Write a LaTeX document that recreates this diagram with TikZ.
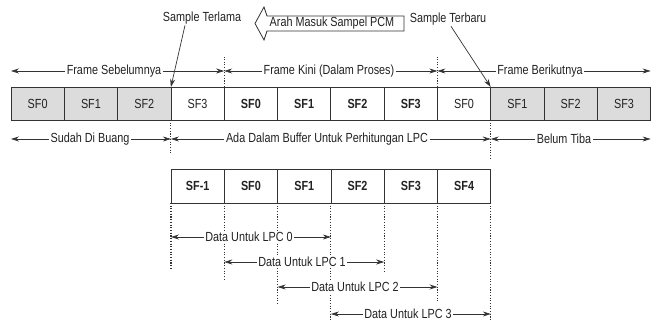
\documentclass[tikz,border=0pt]{standalone}
\usepackage{fontspec}
\setmainfont[FakeStretch=0.82]{Liberation Sans}
\usetikzlibrary{arrows.meta}
\definecolor{linec}{HTML}{333333}
\definecolor{txtc}{HTML}{222222}
\definecolor{grayfill}{HTML}{DCDCDC}
\newcommand{\lblfont}{\fontsize{13.2}{15}\selectfont}
\tikzset{
  sfbox/.style={draw=linec, line width=0.7pt, minimum width=53.3pt, minimum height=33pt, inner sep=0pt, outer sep=0pt, fill=white},
  g/.style={sfbox, fill=grayfill},
  w/.style={sfbox},
  b/.style={sfbox, font=\lblfont\bfseries},
  arr/.style={-{Stealth[length=8pt,width=5pt]}, draw=linec, line width=0.7pt},
  dotline/.style={draw=linec, line width=1.1pt, dash pattern=on 1.1pt off 1.6pt},
  lbl/.style={inner sep=1.5pt, fill=white},
}
\begin{document}
\begin{tikzpicture}[x=1pt,y=-1pt, font=\lblfont, text=txtc]
\useasboundingbox (0,0) rectangle (653,323);

% top row
\foreach \lab/\sty [count=\i from 0] in {SF0/g,SF1/g,SF2/g,SF3/w,SF0/b,SF1/b,SF2/b,SF3/b,SF0/w,SF1/g,SF2/g,SF3/g}{
  \node[\sty] (t\i) at ({11+53.3*(\i+0.5)},103.5) {\lab};
}
% second row
\foreach \lab [count=\j from 0] in {SF-1,SF0,SF1,SF2,SF3,SF4}{
  \node[b, minimum height=34pt] (b\j) at ({171+53.3*(\j+0.5)},186) {\lab};
}

% dotted separators top row
\draw[dotline] (t4.north west) -- ++(0,-30);
\draw[dotline] (t8.north west) -- ++(0,-30);
\draw[dotline] (t3.south west) -- ++(0,34);
\draw[dotline] (t9.south west) -- ++(0,38);

% dotted separators second row
\draw[dotline] (b0.south west) -- ++(0,65);
\draw[dotline] (b1.south west) -- ++(0,76);
\draw[dotline] (b2.south west) -- ++(0,100);
\draw[dotline] (b3.south west) -- ++(0,118);
\draw[dotline] (b4.south west) -- ++(0,70);
\draw[dotline] (b5.south west) -- ++(0,98);
\draw[dotline] (b5.south east) -- ++(0,118);

% frame labels
\node[lbl] (f1) at (114,71) {Frame Sebelumnya};
\node[lbl] (f2) at (329,71) {Frame Kini (Dalam Proses)};
\node[lbl] (f3) at (540,71) {Frame Berikutnya};
\coordinate (fL) at (t0.north west |- f1);
\coordinate (fA) at (t4.north west |- f1);
\coordinate (fB) at (t8.north west |- f1);
\coordinate (fR) at (t11.north east |- f1);
\draw[arr] (f1.west) -- (fL);
\draw[arr] (f1.east) -- (fA);
\draw[arr] (f2.west) -- (fA);
\draw[arr] (f2.east) -- (fB);
\draw[arr] (f3.west) -- (fB);
\draw[arr] (f3.east) -- (fR);

% lower labels
\node[lbl] (u1) at (90,139) {Sudah Di Buang};
\node[lbl] (u2) at (327,139) {Ada Dalam Buffer Untuk Perhitungan LPC};
\node[lbl] (u3) at (564,139) {Belum Tiba};
\coordinate (uL) at (t0.south west |- u1);
\coordinate (uA) at (t3.south west |- u1);
\coordinate (uB) at (t9.south west |- u1);
\coordinate (uR) at (t11.south east |- u1);
\draw[arr] (u1.west) -- (uL);
\draw[arr] (u1.east) -- (uA);
\draw[arr] (u2.west) -- (uA);
\draw[arr] (u2.east) -- (uB);
\draw[arr] (u3.west) -- (uB);
\draw[arr] (u3.east) -- (uR);

% data labels
\node[lbl] (d0) at (249,237) {Data Untuk LPC 0};
\node[lbl] (d1) at (302,262) {Data Untuk LPC 1};
\node[lbl] (d2) at (355,287) {Data Untuk LPC 2};
\node[lbl] (d3) at (408,314) {Data Untuk LPC 3};
\draw[arr] (d0.west) -- (b0.south west |- d0);
\draw[arr] (d0.east) -- (b2.south east |- d0);
\draw[arr] (d1.west) -- (b1.south west |- d1);
\draw[arr] (d1.east) -- (b3.south east |- d1);
\draw[arr] (d2.west) -- (b2.south west |- d2);
\draw[arr] (d2.east) -- (b4.south east |- d2);
\draw[arr] (d3.west) -- (b3.south west |- d3);
\draw[arr] (d3.east) -- (b5.south east |- d3);

% sample pointers
\node[inner sep=1pt] (st) at (202,18) {Sample Terlama};
\node[inner sep=1pt] (sb) at (448,19) {Sample Terbaru};
\draw[arr] ([xshift=-17pt]st.south) -- (t3.north west);
\draw[arr] ([xshift=3pt]sb.south) -- (t9.north west);

% hollow arrow
\node[inner sep=0pt] (pcm) at (332,23.5) {Arah Masuk Sampel PCM};
\draw[draw=linec, line width=0.8pt, fill=white, line join=miter]
  (404,16) -- (267,16) -- (264,7) -- (255,23.5) -- (264,40) -- (267,31) -- (404,31) -- cycle;
\node[inner sep=0pt] at (pcm) {Arah Masuk Sampel PCM};
\end{tikzpicture}
\end{document}
